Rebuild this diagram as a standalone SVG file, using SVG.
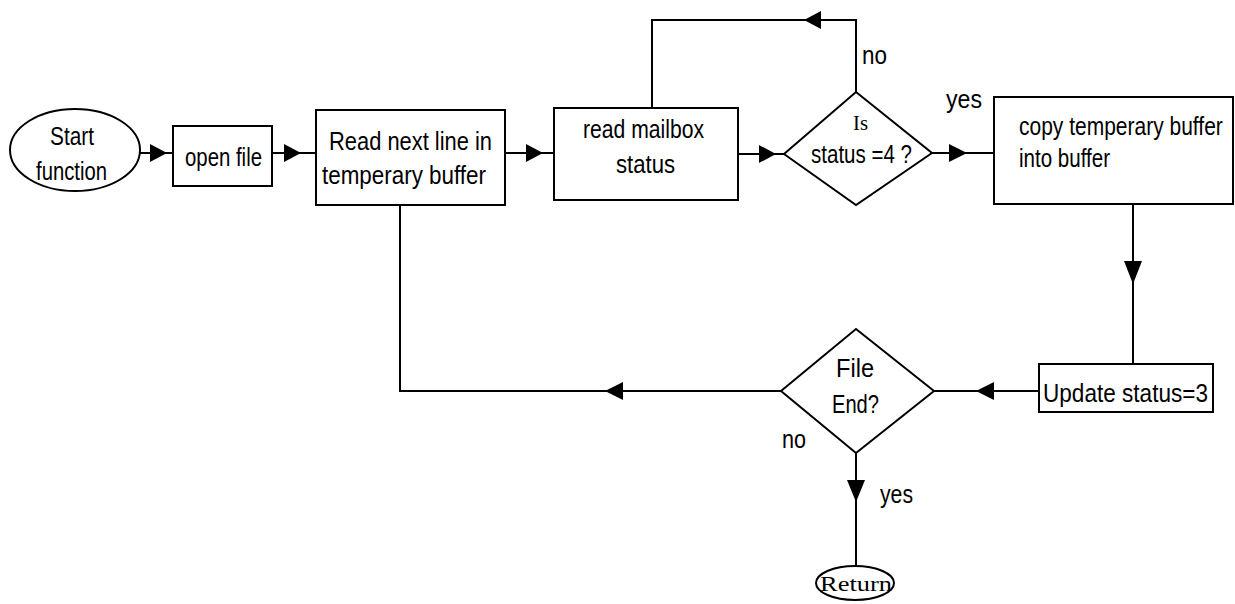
<svg xmlns="http://www.w3.org/2000/svg" width="1235" height="604" viewBox="0 0 1235 604">
<defs>
<style>
.s{fill:#fff;stroke:#000;stroke-width:2}
.c{fill:none;stroke:#000;stroke-width:2}
.t{font-family:"Liberation Sans",Arial,sans-serif;font-size:25px;fill:#000}
.r{font-family:"Liberation Serif","Times New Roman",serif;font-size:21px;fill:#000}
.a{fill:#000}
</style>
</defs>
<rect width="1235" height="604" fill="#fff"/>
<g id="connectors">
<path class="c" d="M140 153H173"/><path class="a" d="M150 144L167 153L150 162Z"/>
<path class="c" d="M272 153H316"/><path class="a" d="M284 144L301 153L284 162Z"/>
<path class="c" d="M505 153H554"/><path class="a" d="M526 144L543 153L526 162Z"/>
<path class="c" d="M738 154H784"/><path class="a" d="M759 145L776 154L759 163Z"/>
<path class="c" d="M652 108V20H856V92"/><path class="a" d="M821 11L804 20L821 29Z"/>
<path class="c" d="M932 153H994"/><path class="a" d="M949 144L967 153L949 162Z"/>
<path class="c" d="M1133 204V364"/><path class="a" d="M1124 261L1133 284L1142 261Z"/>
<path class="c" d="M1039 391H934"/><path class="a" d="M994 382L976 391L994 400Z"/>
<path class="c" d="M781 391H400V205"/><path class="a" d="M623 382L605 391L623 400Z"/>
<path class="c" d="M856 453V565"/><path class="a" d="M847 480L856 502L865 480Z"/>
</g>
<g id="start"><ellipse class="s" cx="75" cy="150" rx="65" ry="41"/>
<text class="t" x="50" y="145" textLength="44" lengthAdjust="spacingAndGlyphs">Start</text>
<text class="t" x="36" y="180" textLength="71" lengthAdjust="spacingAndGlyphs">function</text></g>
<g id="open"><rect class="s" x="173" y="126" width="99" height="60"/>
<text class="t" x="185" y="166" textLength="77" lengthAdjust="spacingAndGlyphs">open file</text></g>
<g id="readline"><rect class="s" x="316" y="110" width="189" height="95"/>
<text class="t" x="329" y="150" textLength="163" lengthAdjust="spacingAndGlyphs">Read next line in</text>
<text class="t" x="322" y="184" textLength="164" lengthAdjust="spacingAndGlyphs">temperary buffer</text></g>
<g id="mailbox"><rect class="s" x="554" y="108" width="184" height="92"/>
<text class="t" x="583" y="138" textLength="121" lengthAdjust="spacingAndGlyphs">read mailbox</text>
<text class="t" x="616" y="173" textLength="59" lengthAdjust="spacingAndGlyphs">status</text></g>
<g id="status4"><path class="s" d="M784 154L856 92L932 153L856 205Z"/>
<text class="r" x="853" y="130" textLength="15" lengthAdjust="spacingAndGlyphs">Is</text>
<text class="t" x="811" y="163" textLength="101" lengthAdjust="spacingAndGlyphs">status =4 ?</text></g>
<g id="copy"><rect class="s" x="994" y="97" width="239" height="107"/>
<text class="t" transform="translate(1019 135) scale(0.84 1)">copy temperary buffer</text>
<text class="t" x="1019" y="167" textLength="91" lengthAdjust="spacingAndGlyphs">into buffer</text></g>
<g id="update"><rect class="s" x="1039" y="364" width="174" height="48"/>
<text class="t" x="1043" y="402" textLength="165" lengthAdjust="spacingAndGlyphs">Update status=3</text></g>
<g id="fileend"><path class="s" d="M781 391L856 329L934 391L856 453Z"/>
<text class="t" x="836" y="377" textLength="38" lengthAdjust="spacingAndGlyphs">File</text>
<text class="t" x="832" y="413" textLength="47" lengthAdjust="spacingAndGlyphs">End?</text></g>
<g id="return"><ellipse class="s" cx="855" cy="583" rx="39" ry="17"/>
<text class="r" x="820" y="591" textLength="72" lengthAdjust="spacingAndGlyphs">Return</text></g>
<g id="labels">
<text class="t" x="862" y="64" textLength="25" lengthAdjust="spacingAndGlyphs">no</text>
<text class="t" x="946" y="108" textLength="36" lengthAdjust="spacingAndGlyphs">yes</text>
<text class="t" x="782" y="448" textLength="24" lengthAdjust="spacingAndGlyphs">no</text>
<text class="t" x="880" y="503" textLength="33" lengthAdjust="spacingAndGlyphs">yes</text>
</g>
</svg>
